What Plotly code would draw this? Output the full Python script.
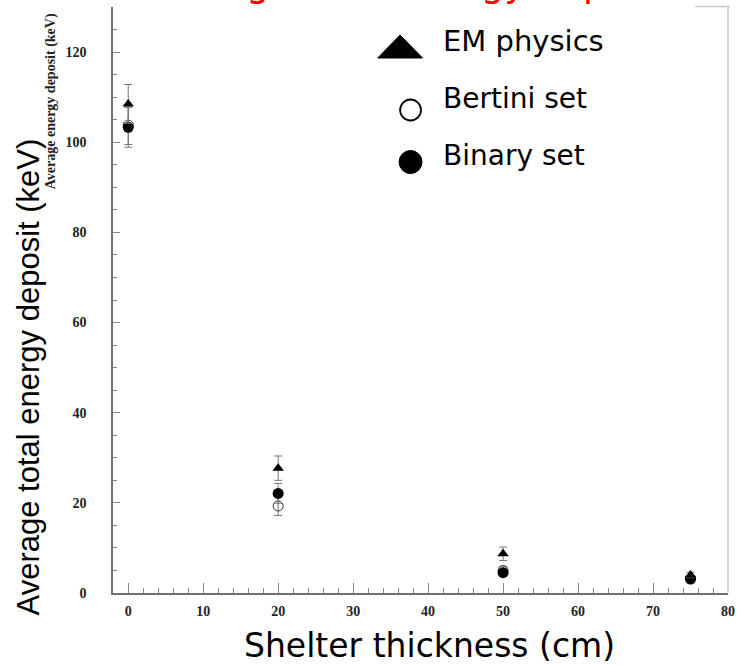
import plotly.graph_objects as go

# ---- data ----
thickness = [0, 20, 50, 75]
em_vals = [108.5, 27.7, 8.7, 4.0]
em_err = [4.3, 2.7, 1.5, 0.6]
bertini_vals = [103.8, 19.3, 5.0, 3.2]
bertini_err = [4.3, 2.1, 0.8, 0.5]
binary_vals = [103.3, 22.1, 4.5, 3.1]
binary_err = [4.4, 2.2, 0.8, 0.5]
x_tick_vals = [0, 10, 20, 30, 40, 50, 60, 70, 80]
y_tick_vals = [0, 20, 40, 60, 80, 100, 120]
series_names = ["EM physics", "Bertini set", "Binary set"]

W, H = 742, 665
L, R, T, B = 113, 11, 7, 72
PW, PH = W - L - R, H - T - B


def px(xp):
    return (xp - L) / PW


def py(yp):
    return (T + PH - yp) / PH


err_style = dict(type="data", color="#777777", thickness=1, width=4)

fig = go.Figure()
fig.add_trace(go.Scatter(
    x=thickness, y=bertini_vals, mode="markers", name=series_names[1],
    error_y=dict(array=bertini_err, **err_style),
    marker=dict(symbol="circle-open", size=10, color="#333333", line=dict(width=1)),
))
fig.add_trace(go.Scatter(
    x=thickness, y=binary_vals, mode="markers", name=series_names[2],
    error_y=dict(array=binary_err, **err_style),
    marker=dict(symbol="circle", size=11, color="black"),
))
fig.add_trace(go.Scatter(
    x=thickness, y=em_vals, mode="markers", name=series_names[0],
    error_y=dict(array=em_err, **err_style),
    marker=dict(symbol="triangle-up", size=10, color="black"),
))

tickfont = dict(family="Liberation Serif", size=14, color="#222222", weight="bold")

fig.update_layout(
    width=W, height=H, autosize=False,
    margin=dict(l=L, r=R, t=T, b=B, pad=0),
    paper_bgcolor="white", plot_bgcolor="white",
    showlegend=False,
    xaxis=dict(
        range=[-2.03, 80], showline=True, linecolor="#707070", linewidth=1.5,
        ticks="inside", ticklen=10, tickwidth=1, tickcolor="#888888",
        tickvals=x_tick_vals, ticktext=[str(v) for v in x_tick_vals],
        minor=dict(dtick=2, tick0=0, ticks="inside", ticklen=5, tickcolor="#888888", showgrid=False),
        showgrid=False, zeroline=False, tickfont=tickfont, ticklabelstandoff=4,
    ),
    yaxis=dict(
        range=[0, 130], showline=True, linecolor="#707070", linewidth=1.5,
        ticks="inside", ticklen=7, tickwidth=1, tickcolor="#888888",
        tickvals=y_tick_vals, ticktext=[str(v) for v in y_tick_vals],
        minor=dict(dtick=5, tick0=0, ticks="inside", ticklen=4, tickcolor="#888888", showgrid=False),
        showgrid=False, zeroline=False, tickfont=tickfont, ticklabelstandoff=22,
    ),
)

shapes = [
    # right frame border and partial top border
    dict(type="line", xref="paper", yref="paper", x0=1, x1=1, y0=0, y1=py(6.5),
         line=dict(color="#c8c8c8", width=1.5)),
    dict(type="line", xref="paper", yref="paper", x0=px(698), x1=px(733), y0=py(6.5), y1=py(6.5),
         line=dict(color="#c8c8c8", width=1.5)),
    # legend symbols
    dict(type="path", xref="paper", yref="paper",
         path=f"M {px(379)} {py(58)} L {px(424)} {py(58)} L {px(401.5)} {py(35)} Z",
         fillcolor="black", line=dict(color="black", width=1)),
    dict(type="circle", xref="paper", yref="paper",
         x0=px(401.5), x1=px(422.5), y0=py(120.5), y1=py(99.5),
         fillcolor="white", line=dict(color="black", width=1.8)),
    dict(type="circle", xref="paper", yref="paper",
         x0=px(400.5), x1=px(423.5), y0=py(173.5), y1=py(150.5),
         fillcolor="black", line=dict(color="black", width=1)),
]
fig.update_layout(shapes=shapes)

big = dict(family="DejaVu Sans", color="black")
annotations = [
    # red title, mostly clipped at the top edge as in the reference
    dict(text="Average total energy deposit", xref="paper", yref="paper",
         x=px(408), y=py(-17), xanchor="center", yanchor="middle", showarrow=False,
         font=dict(family="DejaVu Sans", size=36.5, color="red")),
    # legend texts
    dict(text=series_names[0], xref="paper", yref="paper", x=px(443), y=py(40.5),
         xanchor="left", yanchor="middle", showarrow=False, font=dict(size=29, **big)),
    dict(text=series_names[1], xref="paper", yref="paper", x=px(443), y=py(98.5),
         xanchor="left", yanchor="middle", showarrow=False, font=dict(size=28, **big)),
    dict(text=series_names[2], xref="paper", yref="paper", x=px(443), y=py(155.5),
         xanchor="left", yanchor="middle", showarrow=False, font=dict(size=28, **big)),
    # big axis titles
    dict(text="Shelter thickness (cm)", xref="paper", yref="paper", x=px(431), y=py(646),
         xanchor="center", yanchor="middle", showarrow=False, font=dict(size=33, **big)),
    dict(text="Average total energy deposit (keV)", xref="paper", yref="paper",
         x=px(28), y=py(377), xanchor="center", yanchor="middle", textangle=-90,
         showarrow=False, font=dict(family="Liberation Sans", size=31, color="black")),
    # small original axis title
    dict(text="Average energy deposit (keV)", xref="paper", yref="paper",
         x=px(51), y=py(101), xanchor="center", yanchor="middle", textangle=-90,
         showarrow=False, font=dict(family="Liberation Serif", size=14, color="#222222", weight="bold")),
]
fig.update_layout(annotations=annotations)

fig.write_html("out.html", config={"displayModeBar": False},
               post_script="document.body.style.margin='0';")
